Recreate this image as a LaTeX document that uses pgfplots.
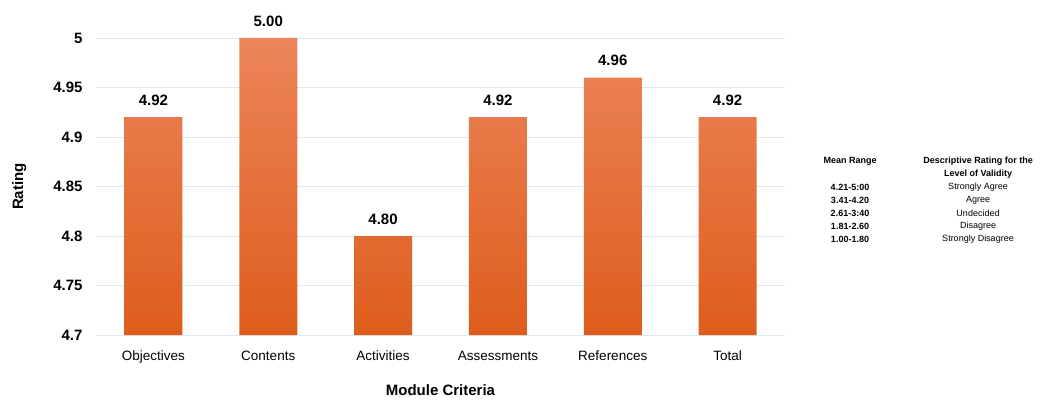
\documentclass[border=0pt]{standalone}
\usepackage{pgfplots}
\pgfplotsset{compat=1.18}
\usepackage{fontspec}
\setmainfont{Liberation Sans}
\definecolor{barTop}{HTML}{EC855A}
\definecolor{barMid}{HTML}{F07030}
\definecolor{barBot}{HTML}{DE5D1C}
\definecolor{gridc}{HTML}{DDE8F0}
\begin{document}
\begin{tikzpicture}
\useasboundingbox (-96pt,-66pt) rectangle (944pt,335pt);
\begin{axis}[
  scale only axis,
  width=689pt, height=297pt,
  ybar, bar width=58pt,
  xmin=-0.5, xmax=5.5,
  ymin=4.7, ymax=5,
  ytick={4.7,4.75,...,5.01},
  xtick=data,
  xticklabels={Objectives,Contents,Activities,Assessments,References,Total},
  yticklabel style={font=\fontsize{15}{15}\selectfont\bfseries, /pgf/number format/fixed, /pgf/number format/precision=2, xshift=-10pt},
  /pgf/number format/assume math mode=true,
  xticklabel style={font=\fontsize{13.5}{14}\selectfont, anchor=base, yshift=-25pt},
  major tick length=0pt,
  axis line style={draw=none},
  ymajorgrids, grid style={gridc, line width=0.8pt},
  ylabel={\bfseries Rating},
  ylabel style={font=\fontsize{15}{15}\selectfont, yshift=20pt},
  xlabel={\bfseries Module Criteria},
  xlabel style={font=\fontsize{15}{15}\selectfont, yshift=-15pt},
  nodes near coords,
  nodes near coords style={font=\fontsize{15}{15}\selectfont\bfseries, /pgf/number format/fixed, /pgf/number format/fixed zerofill, /pgf/number format/precision=2, yshift=8pt},
  clip=false,
]
\addplot[draw=none, top color=barTop, middle color=barMid, bottom color=barBot] coordinates {(0,4.92) (1,5.00) (2,4.80) (3,4.92) (4,4.96) (5,4.92)};
\end{axis}
\begin{scope}[font=\fontsize{9}{9}\selectfont]
\node[font=\fontsize{9}{9}\selectfont\bfseries] at (754pt,174pt) {Mean Range};
\node[font=\fontsize{9}{9}\selectfont\bfseries] at (882pt,174pt) {Descriptive Rating for the};
\node[font=\fontsize{9}{9}\selectfont\bfseries] at (882pt,161pt) {Level of Validity};
\node[font=\fontsize{9}{9}\selectfont\bfseries] at (754pt,148pt) {4.21-5:00};
\node[font=\fontsize{9}{9}\selectfont\bfseries] at (754pt,135pt) {3.41-4.20};
\node[font=\fontsize{9}{9}\selectfont\bfseries] at (754pt,122pt) {2.61-3:40};
\node[font=\fontsize{9}{9}\selectfont\bfseries] at (754pt,109pt) {1.81-2.60};
\node[font=\fontsize{9}{9}\selectfont\bfseries] at (754pt,96pt) {1.00-1.80};
\node at (882pt,148pt) {Strongly Agree};
\node at (882pt,135pt) {Agree};
\node at (882pt,122pt) {Undecided};
\node at (882pt,109pt) {Disagree};
\node at (882pt,96pt) {Strongly Disagree};
\end{scope}
\end{tikzpicture}
\end{document}
